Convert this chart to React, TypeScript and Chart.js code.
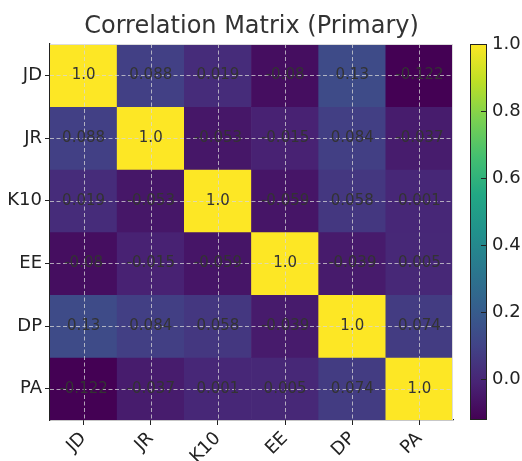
import React, { useEffect, useRef } from "react";
import { Chart, registerables } from "chart.js";

Chart.register(...registerables);

const labels = ["JD", "JR", "K10", "EE", "DP", "PA"];
const rowJD = [1.0, 0.088, 0.019, -0.08, 0.13, -0.122];
const rowJR = [0.088, 1.0, -0.053, -0.015, 0.084, -0.037];
const rowK10 = [0.019, -0.053, 1.0, -0.059, 0.058, 0.001];
const rowEE = [-0.08, -0.015, -0.059, 1.0, -0.039, 0.005];
const rowDP = [0.13, 0.084, 0.058, -0.039, 1.0, 0.074];
const rowPA = [-0.122, -0.037, 0.001, 0.005, 0.074, 1.0];
const matrix = [rowJD, rowJR, rowK10, rowEE, rowDP, rowPA];
const colorbarTicks = [0, 0.2, 0.4, 0.6, 0.8, 1.0];
const vmin = -0.122;
const vmax = 1.0;

const viridisStops = [
  "#440154", "#482475", "#414487", "#355f8d", "#2a788e", "#21918c",
  "#22a884", "#44bf70", "#7ad151", "#bddf26", "#fde725",
];

function hexToRgb(h: string) {
  return [parseInt(h.slice(1, 3), 16), parseInt(h.slice(3, 5), 16), parseInt(h.slice(5, 7), 16)];
}

function viridis(t: number) {
  t = Math.max(0, Math.min(1, t));
  const pos = t * (viridisStops.length - 1);
  const i = Math.min(Math.floor(pos), viridisStops.length - 2);
  const f = pos - i;
  const a = hexToRgb(viridisStops[i]);
  const b = hexToRgb(viridisStops[i + 1]);
  const c = a.map((v, k) => Math.round(v + (b[k] - v) * f));
  return `rgb(${c[0]},${c[1]},${c[2]})`;
}

const norm = (v: number) => (v - vmin) / (vmax - vmin);
const FONT = '"DejaVu Sans", sans-serif';

const zeroPad = (s: any) => {
  s.paddingTop = 0;
  s.paddingBottom = 0;
  s.paddingLeft = 0;
  s.paddingRight = 0;
};

const overlayPlugin = {
  id: "overlay",
  afterDatasetsDraw(chart: any) {
    const { ctx, chartArea } = chart;
    const { left, right, top, bottom } = chartArea;
    const x = chart.scales.x;
    const y = chart.scales.y;
    const y2 = chart.scales.y2;
    ctx.save();
    // dashed grid
    ctx.setLineDash([4, 2.5]);
    ctx.strokeStyle = "rgba(215,215,215,0.75)";
    ctx.lineWidth = 1;
    for (let i = 0; i < labels.length; i++) {
      const px = Math.round(x.getPixelForValue(i)) + 0.5;
      ctx.beginPath();
      ctx.moveTo(px, top);
      ctx.lineTo(px, bottom);
      ctx.stroke();
      const py = Math.round(y.getPixelForValue(i + 0.5)) + 0.5;
      ctx.beginPath();
      ctx.moveTo(left, py);
      ctx.lineTo(right, py);
      ctx.stroke();
    }
    ctx.setLineDash([]);
    // cell text
    ctx.font = `15px ${FONT}`;
    ctx.fillStyle = "#333333";
    ctx.textAlign = "center";
    ctx.textBaseline = "middle";
    matrix.forEach((row, r) => {
      row.forEach((v, c) => {
        const txt = v === 1 ? "1.0" : String(v);
        ctx.fillText(txt, x.getPixelForValue(c), y.getPixelForValue(r + 0.5));
      });
    });
    // light spines top/right
    ctx.strokeStyle = "#dcdcdc";
    ctx.lineWidth = 1;
    ctx.beginPath();
    ctx.moveTo(left, top + 0.5);
    ctx.lineTo(right, top + 0.5);
    ctx.moveTo(right - 0.5, top);
    ctx.lineTo(right - 0.5, bottom);
    ctx.stroke();
    // colorbar
    const cbL = 470;
    const cbR = 487;
    const cbTop = y2.getPixelForValue(vmax);
    const cbBot = y2.getPixelForValue(vmin);
    const grad = ctx.createLinearGradient(0, cbBot, 0, cbTop);
    viridisStops.forEach((s, i) => grad.addColorStop(i / (viridisStops.length - 1), s));
    ctx.fillStyle = grad;
    ctx.fillRect(cbL, cbTop, cbR - cbL, cbBot - cbTop);
    ctx.strokeStyle = "#222";
    ctx.lineWidth = 1;
    ctx.strokeRect(cbL + 0.5, cbTop + 0.5, cbR - cbL - 1, cbBot - cbTop - 1);
    ctx.beginPath();
    colorbarTicks.forEach((t) => {
      const py = Math.round(y2.getPixelForValue(t)) + 0.5;
      ctx.moveTo(cbR - 6, py);
      ctx.lineTo(cbR, py);
    });
    ctx.stroke();
    // title
    ctx.font = `24px ${FONT}`;
    ctx.fillStyle = "#333333";
    ctx.textAlign = "center";
    ctx.textBaseline = "alphabetic";
    ctx.fillText("Correlation Matrix (Primary)", (left + right) / 2, 33);
    ctx.restore();
  },
};

export default function App() {
  const ref = useRef<HTMLCanvasElement | null>(null);
  useEffect(() => {
    if (!ref.current) return;
    const datasets = matrix.map((row, r) => ({
      label: labels[r],
      data: row.map(() => [r, r + 1]),
      backgroundColor: row.map((v) => viridis(norm(v))),
      borderWidth: 0,
      barPercentage: 1,
      categoryPercentage: 1,
      grouped: false,
      xAxisID: "x",
      yAxisID: "y",
    }));
    const chart = new Chart(ref.current, {
      type: "bar",
      data: { labels, datasets: datasets as any },
      plugins: [overlayPlugin],
      options: {
        responsive: false,
        animation: false,
        layout: { padding: { top: 44, left: 0, right: 0, bottom: 0 } },
        plugins: { legend: { display: false }, tooltip: { enabled: false }, title: { display: false } },
        scales: {
          x: {
            type: "category",
            offset: true,
            grid: { display: true, drawOnChartArea: false, offset: false, tickLength: 5, color: "#222" },
            border: { display: true, color: "#222", width: 1.2 },
            ticks: {
              font: { family: FONT, size: 18 },
              color: "#222",
              maxRotation: 45,
              minRotation: 45,
              padding: 3,
              autoSkip: false,
            },
            afterFit: (s: any) => { s.height = 41; zeroPad(s); },
          },
          y: {
            type: "linear",
            min: 0,
            max: 6,
            reverse: true,
            grid: { display: true, drawOnChartArea: false, tickLength: 5, color: "#222" },
            border: { display: true, color: "#222", width: 1.2 },
            afterBuildTicks: (s: any) => {
              s.ticks = labels.map((_, i) => ({ value: i + 0.5 }));
            },
            ticks: {
              font: { family: FONT, size: 18 },
              color: "#222",
              padding: 3,
              callback: (v: any) => labels[Math.floor(Number(v))],
            },
            afterFit: (s: any) => { s.width = 50; zeroPad(s); },
          },
          y2: {
            type: "linear",
            position: "right",
            min: vmin,
            max: vmax,
            grid: { display: false, drawTicks: false },
            border: { display: false },
            afterBuildTicks: (s: any) => {
              s.ticks = colorbarTicks.map((v) => ({ value: v }));
            },
            ticks: {
              font: { family: FONT, size: 18 },
              color: "#222",
              padding: 39,
              callback: (v: any) => Number(v).toFixed(1),
            },
            afterFit: (s: any) => { s.width = 69; zeroPad(s); },
          },
        },
      } as any,
    });
    return () => chart.destroy();
  }, []);
  return (
    <div style={{ position: "fixed", left: 0, top: 0, width: 522, height: 461, background: "#fff" }}>
      <canvas ref={ref} width={522} height={461} />
    </div>
  );
}
